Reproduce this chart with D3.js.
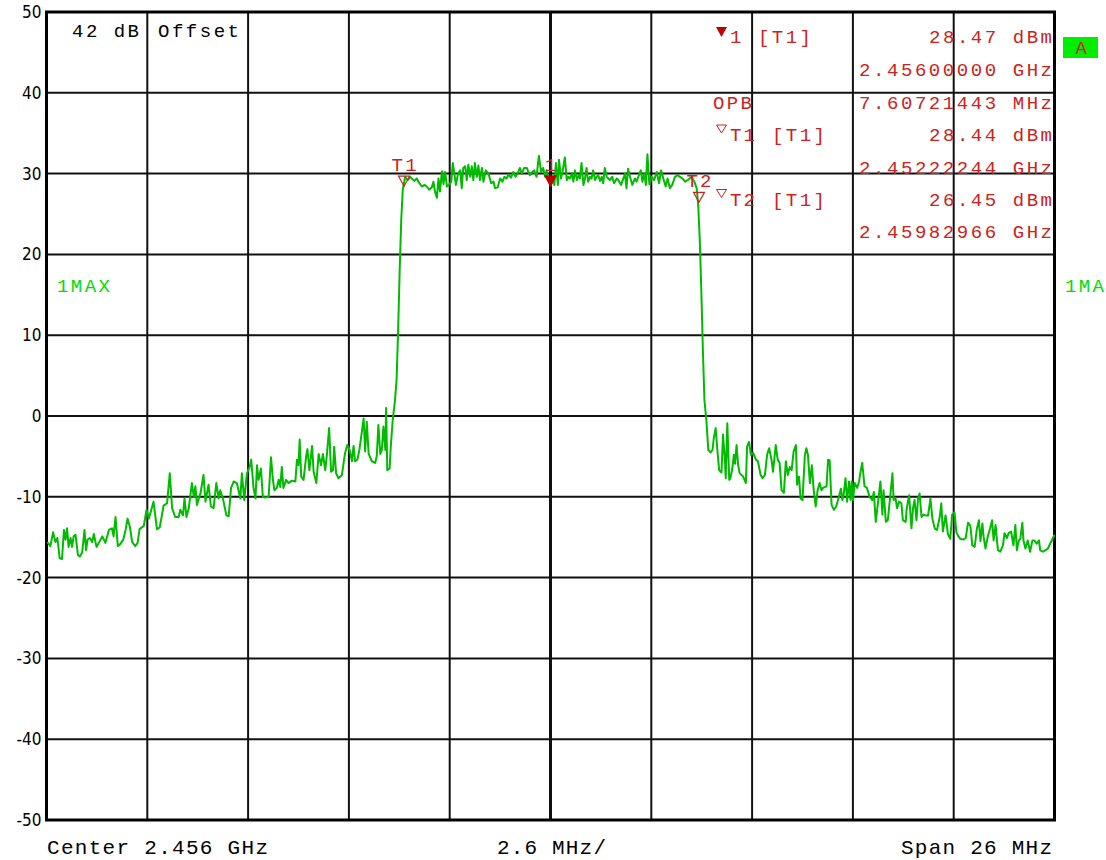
<!DOCTYPE html>
<html>
<head>
<meta charset="utf-8">
<script src="https://cdn.jsdelivr.net/npm/d3@7"></script>
<style>
  body { margin: 0; background: #fff; }
  svg { display: block; }
</style>
</head>
<body>
<svg id="chart" width="1106" height="860"></svg>
<script>
// spectrum analyzer screen: center 2.456 GHz, span 26 MHz, ref 50 dBm, 10 dB/div
const centerGHz = 2.456;
const spanMHz = 26;
const levelTicks = [50, 40, 30, 20, 10, 0, -10, -20, -30, -40, -50];

// trace, frequency as offset from center (MHz) and level (dBm)
const traceFreqMHz = [
  -12.98,-12.90,-12.83,-12.77,-12.72,-12.66,-12.60,-12.55,-12.51,-12.47,
  -12.43,-12.38,-12.34,-12.30,-12.25,-12.19,-12.14,-12.08,-12.02,-11.98,
  -11.94,-11.88,-11.82,-11.78,-11.71,-11.65,-11.56,-11.48,-11.39,-11.31,
  -11.27,-11.22,-11.16,-11.09,-11.02,-10.96,-10.91,-10.85,-10.79,-10.71,
  -10.65,-10.60,-10.49,-10.42,-10.36,-10.24,-10.15,-10.08,-9.98,-9.89,
  -9.82,-9.76,-9.68,-9.59,-9.55,-9.48,-9.44,-9.39,-9.33,-9.25,
  -9.20,-9.16,-9.12,-9.03,-8.95,-8.90,-8.82,-8.76,-8.69,-8.62,
  -8.56,-8.52,-8.45,-8.36,-8.30,-8.24,-8.17,-8.09,-8.00,-7.96,
  -7.90,-7.83,-7.76,
  -7.72,-7.66,-7.61,-7.57,-7.53,-7.47,-7.42,-7.36,-7.27,-7.21,
  -7.16,-7.12,-7.06,-7.01,-6.97,-6.93,-6.89,-6.82,-6.76,-6.67,
  -6.58,-6.54,-6.50,-6.47,-6.43,-6.37,-6.30,-6.27,-6.22,-6.15,
  -6.11,-6.04,-5.98,-5.92,-5.87,-5.81,-5.77,-5.71,-5.66,-5.61,
  -5.58,-5.53,-5.47,-5.38,-5.30,-5.24,-5.18,-5.12,-5.08,-5.04,
  -4.98,-4.93,-4.87,-4.82,-4.78,-4.74,-4.69,-4.61,-4.52,-4.48,
  -4.44,-4.39,-4.35,-4.31,-4.26,-4.24,-4.21,-4.15,-4.12,-4.07,
  -4.01,-3.97,-3.93,-3.89,-3.85,-3.81,-3.75,
  -3.68,-3.62,-3.58,-3.51,-3.45,-3.41,-3.32,-3.25,-3.19,-3.13,
  -3.06,-3.02,-2.98,-2.93,-2.89,-2.85,-2.80,-2.76,-2.72,-2.67,
  -2.62,-2.56,-2.52,-2.48,-2.44,-2.39,-2.33,-2.29,-2.25,-2.20,
  -2.16,-2.12,-2.07,-2.03,-1.99,-1.95,-1.90,-1.86,-1.82,-1.77,
  -1.73,-1.67,-1.60,-1.53,-1.47,-1.43,-1.36,-1.30,-1.24,-1.19,
  -1.13,-1.09,-1.02,-0.96,-0.90,-0.83,-0.79,-0.74,-0.68,-0.61,
  -0.57,-0.53,-0.47,-0.42,-0.36,-0.30,-0.24,-0.19,-0.14,-0.10,
  -0.06,0.00,0.03,0.10,0.14,0.19,0.22,0.27,0.31,0.37,
  0.42,0.46,0.50,0.55,0.59,0.63,0.68,0.72,0.76,0.80,
  0.85,0.89,0.93,0.97,1.02,1.06,1.10,1.15,1.19,1.23,
  1.28,1.32,1.36,1.40,1.45,1.49,1.53,1.59,1.64,1.71,
  1.75,1.82,1.88,1.92,1.96,2.00,2.05,2.11,2.18,2.22,
  2.28,2.33,2.37,2.42,2.46,2.50,2.55,2.61,2.67,2.74,
  2.80,2.85,2.91,2.97,3.02,3.08,3.14,3.21,3.28,3.34,
  3.40,3.47,3.54,3.59,3.64,3.71,3.77,
  3.81,3.85,3.89,3.93,3.97,4.02,4.07,4.13,4.18,4.21,
  4.26,4.30,4.35,4.41,4.45,4.50,4.52,4.56,4.61,4.64,
  4.69,4.73,4.76,4.80,4.84,4.88,4.97,5.04,5.07,5.12,
  5.17,5.23,5.30,5.35,5.42,5.47,5.53,5.59,5.64,5.70,
  5.74,5.81,5.86,5.91,5.96,6.02,6.07,6.12,6.17,6.22,
  6.27,6.33,6.36,6.41,6.45,6.50,6.56,6.60,6.64,6.69,
  6.74,6.79,6.84,6.89,6.94,6.99,7.03,7.12,7.16,7.20,
  7.25,7.31,7.37,7.44,7.49,7.53,7.56,7.61,7.65,7.70,
  7.74,7.77,7.80,7.85,7.91,7.96,7.99,8.04,8.10,8.16,
  8.23,8.30,
  8.34,8.39,8.45,8.51,8.56,8.59,8.65,8.70,8.77,8.82,
  8.85,8.90,8.94,8.99,9.05,9.09,9.16,9.19,9.25,9.31,
  9.35,9.39,9.44,9.48,9.52,9.57,9.62,9.68,9.74,9.80,
  9.85,9.91,9.97,10.04,10.08,10.12,10.19,10.25,10.31,10.36,
  10.42,10.47,10.51,10.57,10.64,10.71,10.77,10.83,10.88,10.94,
  11.00,11.05,11.09,11.14,11.17,11.22,11.28,11.34,11.39,11.43,
  11.48,11.54,11.60,11.67,11.71,11.77,11.82,11.88,11.94,11.99,
  12.03,12.08,12.12,12.17,12.20,12.25,12.31,12.37,12.43,12.48,
  12.54,12.60,12.63,12.70,12.77,12.83,12.91,13.00
];
const traceLevelDbm = [
  -15.6,-16.1,-14.4,-15.6,-15.1,-17.6,-17.7,-14.1,-15.3,-13.9,
  -16.2,-15.1,-16.2,-14.9,-14.7,-17.2,-17.4,-16.9,-14.1,-16.6,
  -15.3,-15.1,-15.6,-14.6,-16.2,-15.7,-14.9,-15.7,-14.1,-13.9,
  -14.9,-12.5,-16.1,-15.8,-15.3,-14.1,-12.7,-13.7,-15.6,-16.1,
  -15.7,-14.0,-13.6,-11.6,-12.7,-10.6,-14.0,-13.8,-11.1,-10.8,
  -7.1,-11.4,-12.5,-12.5,-11.6,-12.3,-10.2,-12.5,-11.4,-8.3,
  -10.0,-8.7,-11.0,-9.6,-7.3,-10.6,-8.5,-11.2,-11.4,-8.3,
  -10.2,-9.2,-10.2,-12.3,-12.4,-8.9,-8.1,-8.3,-10.2,-7.1,
  -10.4,-7.1,-6.3,
  -5.4,-8.9,-10.2,-6.1,-7.9,-6.5,-10.0,-10.1,-10.0,-5.1,
  -7.9,-9.2,-8.9,-7.9,-8.8,-6.3,-8.9,-7.9,-8.3,-8.0,
  -8.1,-5.4,-6.1,-2.9,-7.5,-7.9,-4.9,-4.1,-6.7,-3.7,
  -6.9,-8.3,-4.7,-6.1,-4.7,-6.7,-4.9,-1.5,-6.9,-6.7,
  -3.8,-7.1,-7.7,-7.3,-4.6,-3.6,-4.2,-5.6,-3.7,-5.6,
  -5.4,-4.2,-2.1,-0.3,-4.4,-0.7,-4.7,-5.6,-5.8,-4.9,
  -1.1,-4.7,-4.2,-1.3,-4.2,1.0,-6.7,-6.5,-3.8,-0.5,
  2.0,4.5,10.6,18.1,24.3,28.0,29.6,
  29.2,29.6,29.4,29.1,29.4,29.0,28.4,28.6,28.4,28.0,
  28.3,29.0,27.8,27.0,29.4,27.8,30.3,28.7,30.2,28.4,
  28.6,29.0,31.3,30.0,28.6,29.9,30.4,28.2,30.7,30.9,
  29.2,31.1,29.6,30.9,29.2,31.3,29.6,31.0,29.2,30.7,
  29.0,30.4,30.0,28.8,29.0,28.2,28.3,29.4,29.0,29.6,
  29.4,29.9,29.5,30.2,29.6,30.2,30.7,30.0,30.7,30.7,
  30.2,29.8,30.2,30.4,29.6,32.2,30.2,30.7,29.6,30.4,
  29.4,28.5,29.2,28.6,31.3,28.6,31.7,29.4,30.2,32.0,
  29.2,29.6,29.4,30.0,29.0,30.4,29.2,29.8,29.4,31.3,
  28.6,29.4,30.7,29.0,29.6,29.4,30.4,29.2,29.6,29.8,
  29.1,29.6,28.8,30.7,29.6,29.4,29.2,29.6,28.8,29.4,
  29.2,28.6,29.4,30.0,28.2,30.6,29.6,28.6,29.4,29.0,
  29.8,30.4,29.0,30.0,28.6,32.4,28.7,29.6,29.2,30.2,
  28.8,30.4,29.4,28.4,29.4,28.2,28.6,29.6,29.8,29.6,
  29.4,29.0,29.2,29.4,29.6,29.0,28.2,
  26.1,21.8,15.6,8.2,2.0,-0.5,-4.2,-4.5,-4.2,-2.8,
  -1.5,-4.0,-6.7,-7.0,-2.3,-5.6,-7.7,-0.9,-7.9,-7.7,
  -6.5,-4.8,-5.9,-3.6,-6.1,-7.1,-7.5,-8.3,-3.8,-3.2,
  -4.8,-4.6,-5.4,-5.6,-7.3,-7.7,-7.3,-4.7,-4.0,-5.4,
  -6.9,-3.6,-5.4,-5.8,-9.2,-9.5,-5.6,-7.3,-6.3,-6.7,
  -4.4,-3.6,-8.5,-7.5,-10.2,-10.4,-4.9,-4.0,-4.8,-8.3,
  -6.1,-9.2,-11.2,-9.2,-8.3,-9.2,-8.9,-8.7,-5.4,-5.5,
  -11.0,-11.6,-11.2,-10.0,-9.0,-10.4,-9.8,-7.7,-10.6,-8.1,
  -10.4,-8.1,-10.4,-8.3,-8.9,-8.1,-7.1,-5.8,-8.7,-8.9,
  -10.0,-10.4,
  -9.4,-13.1,-10.6,-8.1,-12.2,-9.2,-13.1,-12.9,-9.6,-7.1,
  -10.4,-10.2,-11.4,-10.6,-10.8,-12.9,-13.1,-11.4,-9.8,-13.9,
  -11.4,-10.4,-12.9,-10.2,-9.6,-12.5,-12.2,-12.3,-12.3,-10.2,
  -12.7,-13.9,-14.1,-12.5,-10.8,-14.3,-12.3,-14.6,-15.2,-12.2,
  -11.9,-14.4,-14.8,-15.2,-15.3,-15.1,-13.2,-13.6,-16.0,-16.2,
  -13.9,-12.9,-15.5,-13.3,-14.9,-16.4,-14.9,-13.9,-12.9,-15.4,
  -13.5,-16.6,-16.8,-16.0,-14.5,-15.1,-14.5,-14.3,-16.0,-13.5,
  -16.6,-15.4,-15.2,-13.2,-15.4,-16.4,-15.4,-16.8,-15.4,-15.4,
  -15.8,-15.4,-16.6,-16.8,-16.6,-16.4,-15.6,-14.7
];

// markers
const markerNames = ["1", "T1", "T2"];
const markerFreqGHz = [2.456, 2.45222244, 2.45982966];
const markerLevelDbm = [28.47, 28.44, 26.45];
const markerFilled = [true, false, false];

// readout block (left column pieces and right-aligned values)
const readoutValues = ["28.47 dBm", "2.45600000 GHz", "7.60721443 MHz", "28.44 dBm",
  "2.45222244 GHz", "26.45 dBm", "2.45982966 GHz"];

const W = 1106, H = 860;
const svg = d3.select("#chart");

const x = d3.scaleLinear().domain([-spanMHz / 2, spanMHz / 2]).range([46.5, 1054.5]);
const y = d3.scaleLinear().domain([-50, 50]).range([820, 12]);

const red = "#cc2222";
const green = "#00bb00";
const monoFont = "'Liberation Mono', 'DejaVu Sans Mono', monospace";
const cell = 14;

// monospace text laid on the 14px character grid of the screen
function mono(g, str, px, py, opt) {
  opt = opt || {};
  const w = str.length * cell - 3;
  const x0 = opt.anchor === "end" ? px - w : (opt.anchor === "middle" ? px - w / 2 : px);
  return g.append("text")
    .attr("x", x0).attr("y", py)
    .attr("textLength", w).attr("lengthAdjust", "spacing")
    .attr("font-family", monoFont)
    .attr("font-size", opt.size || 19)
    .attr("fill", opt.color || "#000")
    .style("white-space", "pre")
    .text(str);
}

// grid
const gridFreq = d3.range(11).map(i => -spanMHz / 2 + i * spanMHz / 10);
const grid = svg.append("g");
grid.selectAll("line.v").data(gridFreq).join("line")
  .attr("class", "v")
  .attr("x1", d => x(d)).attr("x2", d => x(d))
  .attr("y1", y(50)).attr("y2", y(-50))
  .attr("stroke", "#111")
  .attr("stroke-width", d => Math.abs(d) < 1e-9 ? 3 : 2);
grid.selectAll("line.h").data(levelTicks).join("line")
  .attr("class", "h")
  .attr("x1", x(-13)).attr("x2", x(13))
  .attr("y1", d => y(d)).attr("y2", d => y(d))
  .attr("stroke", "#111").attr("stroke-width", 2);
svg.append("rect")
  .attr("x", x(-13)).attr("y", y(50))
  .attr("width", x(13) - x(-13)).attr("height", y(-50) - y(50))
  .attr("fill", "none").attr("stroke", "#000").attr("stroke-width", 3);

// level axis labels
const yAxis = svg.append("g")
  .attr("transform", `translate(${x(-13)},0)`)
  .call(d3.axisLeft(y).tickValues(levelTicks).tickSize(0).tickPadding(5).tickFormat(d => String(d)));
yAxis.select(".domain").remove();
yAxis.selectAll("text")
  .attr("font-family", "'Liberation Sans Narrow', 'DejaVu Sans Condensed', 'Liberation Sans', sans-serif")
  .attr("font-size", 17).attr("fill", "#000");

// trace
const traceData = traceFreqMHz.map((f, i) => ({ f, v: traceLevelDbm[i] }));
svg.append("path")
  .datum(traceData)
  .attr("fill", "none")
  .attr("stroke", green)
  .attr("stroke-width", 2)
  .attr("stroke-linejoin", "round")
  .attr("d", d3.line().x(d => x(d.f)).y(d => y(d.v)));

// markers on the trace
const markers = markerNames.map((name, i) => ({
  name,
  f: (markerFreqGHz[i] - centerGHz) * 1000,
  v: markerLevelDbm[i],
  filled: markerFilled[i]
}));
const mg = svg.append("g");
markers.forEach(m => {
  const mx = x(m.f), my = y(m.v);
  mg.append("path")
    .attr("d", `M${mx - 5.5},${my - 10}L${mx + 5.5},${my - 10}L${mx},${my}Z`)
    .attr("fill", m.filled ? "#c00000" : "#fff")
    .attr("fill-opacity", m.filled ? 1 : 0)
    .attr("stroke", m.filled ? "#c00000" : red)
    .attr("stroke-width", 1.2);
  mono(mg, m.name, mx, my - 15, { anchor: "middle", color: red, size: 19 });
});

// readout block
const rowY = [43, 76, 108.5, 141, 173.5, 205.5, 238];
const rg = svg.append("g");
readoutValues.forEach((s, i) => mono(rg, s, 1052, rowY[i], { anchor: "end", color: red }));
// row 1: filled marker symbol
rg.append("path").attr("d", "M716,27L727,27L721.5,37Z").attr("fill", "#c00000");
mono(rg, "1", 730, rowY[0], { color: red });
mono(rg, "[T1]", 758, rowY[0], { color: red });
mono(rg, "OPB", 713, rowY[2], { color: red });
[[3, "T1"], [5, "T2"]].forEach(([r, name]) => {
  const top = rowY[r] - 16;
  rg.append("path")
    .attr("d", `M716.5,${top}L726.5,${top}L721.5,${top + 8}Z`)
    .attr("fill", "none").attr("stroke", red).attr("stroke-width", 1);
  mono(rg, name, 730, rowY[r], { color: red });
  mono(rg, "[T1]", 772, rowY[r], { color: red });
});

// trace mode labels and screen A flag
mono(svg, "1MAX", 57, 292, { color: "#00dd00", size: 19 });
mono(svg, "1MA", 1065, 292, { color: "#00dd00", size: 19 });
svg.append("rect").attr("x", 1063).attr("y", 37).attr("width", 35).attr("height", 21).attr("fill", "#00ee00");
mono(svg, "A", 1081, 54, { anchor: "middle", color: red, size: 19 });

// header and footer
mono(svg, "42 dB", 72, 37, { size: 19 });
mono(svg, "Offset", 158, 37, { size: 19 });
mono(svg, `Center ${centerGHz} GHz`, 47, 854, { size: 21 });
mono(svg, `${spanMHz / 10} MHz/`, 497, 854, { size: 21 });
mono(svg, `Span ${spanMHz} MHz`, 1052, 854, { anchor: "end", size: 21 });
</script>
</body>
</html>
